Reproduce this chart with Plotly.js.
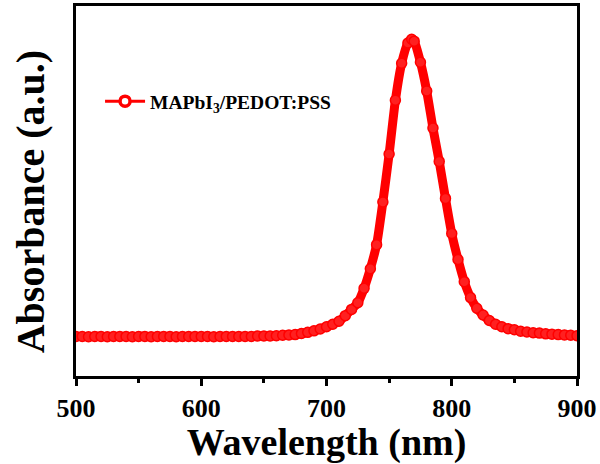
<!DOCTYPE html>
<html>
<head>
<meta charset="utf-8">
<script src="https://cdn.plot.ly/plotly-3.0.1.min.js"></script>
<style>html,body{margin:0;padding:0;background:#fff;}#chart{width:600px;height:464px;}</style>
</head>
<body>
<div id="chart"></div>
<script>
var wavelength = [500,505,510,515,520,525,530,535,540,545,550,555,560,565,570,575,580,585,590,595,
  600,605,610,615,620,625,630,635,640,645,650,655,660,665,670,675,680,685,690,695,
  700,705,710,715,720,725,730,735,740,745,750,755,760,765,768,770,775,780,785,790,795,
  800,805,810,815,820,825,830,835,840,845,850,855,860,865,870,875,880,885,890,895,900];
var absorbance = [0.107,0.107,0.106,0.107,0.107,0.106,0.107,0.107,0.107,0.106,0.107,0.107,0.106,0.107,0.107,0.107,0.106,0.107,0.107,0.107,
  0.107,0.107,0.106,0.107,0.107,0.107,0.107,0.107,0.107,0.108,0.108,0.108,0.109,0.110,0.111,0.112,0.115,0.118,0.122,0.127,
  0.133,0.140,0.148,0.163,0.180,0.198,0.237,0.290,0.355,0.470,0.600,0.745,0.845,0.900,0.910,0.905,0.848,0.770,0.670,0.580,0.480,
  0.385,0.315,0.255,0.212,0.183,0.165,0.150,0.140,0.133,0.128,0.125,0.121,0.119,0.117,0.116,0.114,0.113,0.112,0.111,0.110,0.109];
var seriesName = 'MAPbI<sub>3</sub>/PEDOT:PSS';
var xTicks = [500,600,700,800,900];
var xTitle = 'Wavelength (nm)';
var yTitle = 'Absorbance (a.u.)';

var font = 'Liberation Serif, Times New Roman, serif';
var mainTrace = {
  x: wavelength, y: absorbance, name: seriesName, type: 'scatter', mode: 'lines+markers',
  showlegend: false,
  line: {color: '#ff0000', width: 9, shape: 'spline', smoothing: 0.6},
  marker: {symbol: 'circle', size: 10, color: '#ff2020', line: {color: '#ff0000', width: 1.5}}
};
var legendTrace = {
  x: [null], y: [null], name: seriesName, type: 'scatter', mode: 'lines+markers',
  line: {color: '#ff0000', width: 3},
  marker: {symbol: 'circle', size: 10, color: '#ffffff', line: {color: '#ff0000', width: 3.5}}
};
var layout = {
  width: 600, height: 464,
  margin: {l: 76, r: 23, t: 6, b: 88},
  paper_bgcolor: '#fff', plot_bgcolor: '#fff',
  font: {family: font, color: '#000'},
  showlegend: true,
  legend: {x: 0.048, y: 0.742, xanchor: 'left', yanchor: 'middle', bgcolor: 'rgba(0,0,0,0)',
    font: {family: font, size: 19.5, color: '#000', weight: 'bold'}, itemwidth: 40},
  xaxis: {
    range: [500, 900], tickvals: xTicks, ticktext: xTicks.map(String),
    showline: true, linecolor: '#000', linewidth: 3, mirror: true,
    ticks: 'outside', ticklen: 7, tickwidth: 3, tickcolor: '#000',
    minor: {dtick: 50, ticks: 'outside', ticklen: 4, tickwidth: 3, tickcolor: '#000'},
    showgrid: false, zeroline: false,
    tickfont: {family: font, size: 26, color: '#000', weight: 'bold'},
    title: {text: xTitle, font: {family: font, size: 38, color: '#000', weight: 'bold'}, standoff: 0}
  },
  yaxis: {
    range: [0, 1], showline: true, linecolor: '#000', linewidth: 3, mirror: true,
    ticks: '', showticklabels: false, showgrid: false, zeroline: false
  },
  annotations: [{
    text: yTitle, textangle: -90, showarrow: false,
    xref: 'paper', yref: 'paper', x: -0.092, y: 0.472, xanchor: 'center', yanchor: 'middle',
    font: {family: font, size: 40, color: '#000', weight: 'bold'}
  }]
};
Plotly.newPlot('chart', [mainTrace, legendTrace], layout, {displayModeBar: false, staticPlot: true});
</script>
</body>
</html>
